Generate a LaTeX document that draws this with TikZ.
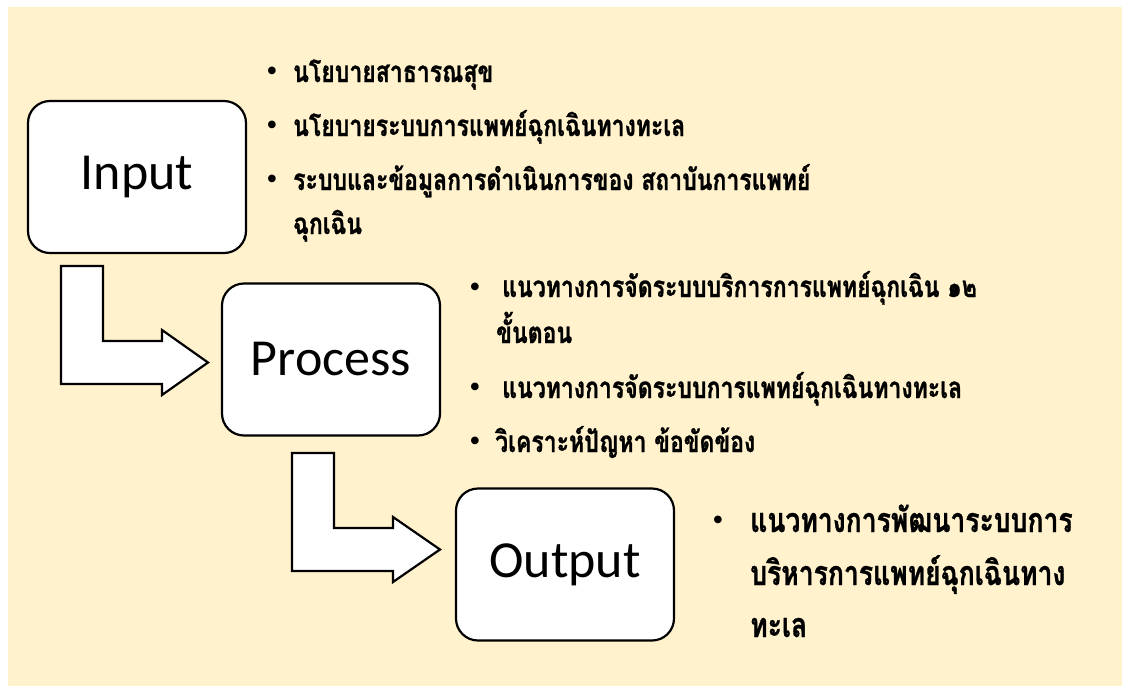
\documentclass[tikz,border=0pt]{standalone}
\usepackage{fontspec}
\setmainfont{Carlito}
\newfontfamily\thai[Script=Thai, FakeStretch=0.78, BoldFeatures={FakeBold=0.9}]{Loma}
\newfontfamily\bulfont{Liberation Serif}
\definecolor{cream}{HTML}{FFF2CC}
\tikzset{
  stage/.style={draw=black, fill=white, line width=2.2pt, rounded corners=22pt,
    minimum width=218pt, minimum height=152pt, inner sep=0pt,
    font=\fontsize{52}{60}\selectfont},
  blockarrow/.style={draw=black, fill=white, line width=2.2pt, line join=miter},
  thaitext/.style={anchor=base west, inner sep=0pt, font=\thai\bfseries\fontsize{29.5}{32}\selectfont},
  thaibig/.style={anchor=base west, inner sep=0pt, font=\thai\bfseries\fontsize{34}{36}\selectfont},
  bul/.style={inner sep=0pt, font=\bulfont\fontsize{32}{32}\selectfont},
}
\begin{document}
\begin{tikzpicture}[x=1pt, y=-1pt]
\useasboundingbox (0,0) rectangle (1122,686);
\fill[white] (0,0) rectangle (1122,686);
\fill[cream] (8,7) rectangle (1122,686);

% stage boxes
\node[stage] (input) at (137,177) {Input};
\node[stage] (process) at (331,359.5) {Process};
\node[stage] (output) at (565,564.5) {Output};

% bent block arrows
\draw[blockarrow] (61,266) -- (103,266) -- (103,341) -- (162,341) -- (162,330)
  -- (208,362.5) -- (162,395) -- (162,384) -- (61,384) -- cycle;
\draw[blockarrow] (292,453) -- (334,453) -- (334,528) -- (393,528) -- (393,517)
  -- (440,549.5) -- (393,582) -- (393,571) -- (292,571) -- cycle;

% input list
\node[bul] (bi1) at (272,74) {•};
\node[thaitext] (ti1) at (293,82) {นโยบายสาธารณสุข};
\node[bul] (bi2) at (272,128) {•};
\node[thaitext] (ti2) at (293,136) {นโยบายระบบการแพทย์ฉุกเฉินทางทะเล};
\node[bul] (bi3) at (272,182) {•};
\node[thaitext] (ti3) at (293,190) {ระบบและข้อมูลการดำเนินการของ สถาบันการแพทย์};
\node[thaitext] (ti4) at (293,234) {ฉุกเฉิน};

% process list
\node[bul] (bp1) at (475,290) {•};
\node[thaitext] (tp1) at (502,297) {แนวทางการจัดระบบบริการการแพทย์ฉุกเฉิน ๑๒};
\node[thaitext] (tp2) at (496,343) {ขั้นตอน};
\node[bul] (bp2) at (475,390) {•};
\node[thaitext] (tp3) at (502,398) {แนวทางการจัดระบบการแพทย์ฉุกเฉินทางทะเล};
\node[bul] (bp3) at (475,444) {•};
\node[thaitext] (tp4) at (495,452) {วิเคราะห์ปัญหา ข้อขัดข้อง};

% output list
\node[bul] (bo1) at (718,523) {•};
\node[thaibig] (to1) at (750,532) {แนวทางการพัฒนาระบบการ};
\node[thaibig] (to2) at (750,585) {บริหารการแพทย์ฉุกเฉินทาง};
\node[thaibig] (to3) at (750,637) {ทะเล};
\end{tikzpicture}
\end{document}
